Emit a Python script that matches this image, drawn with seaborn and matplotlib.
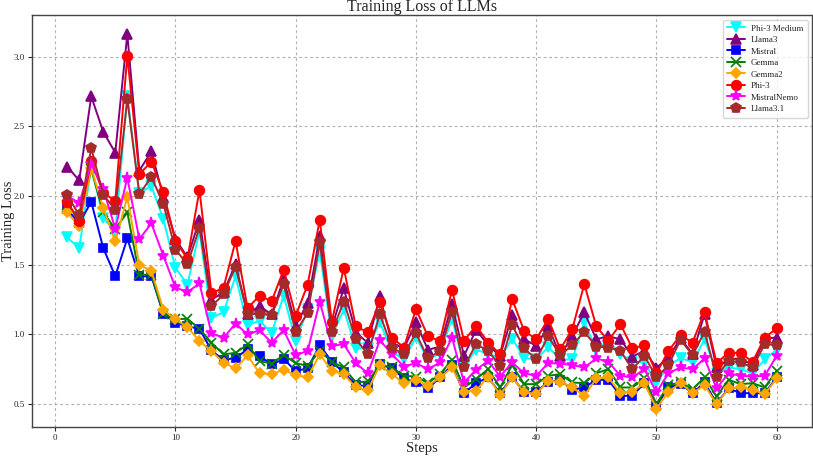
import numpy as np
import pandas as pd
import matplotlib
matplotlib.use('Agg')
import matplotlib.pyplot as plt
import seaborn as sns

steps = list(range(1, 61))

phi3_medium = [1.70, 1.62, 2.21, 1.84, 1.74, 2.72, 2.02, 2.07, 1.83, 1.48,
               1.36, 1.745, 1.12, 1.16, 1.42, 1.065, 1.10, 1.01, 1.28, 0.955,
               1.18, 1.60, 0.99, 1.18, 0.90, 0.90, 1.09, 0.875, 0.82, 0.98,
               0.82, 0.865, 1.115, 0.77, 0.89, 0.86, 0.83, 0.97, 0.83, 0.82,
               0.91, 0.82, 0.82, 1.09, 0.89, 0.95, 0.86, 0.80, 0.80, 0.65,
               0.775, 0.83, 0.80, 0.965, 0.725, 0.76, 0.75, 0.72, 0.82, 0.89]
llama3 = [2.21, 2.11, 2.716, 2.46, 2.31, 3.165, 2.18, 2.32, 1.99, 1.69,
          1.555, 1.826, 1.25, 1.305, 1.505, 1.15, 1.204, 1.144, 1.40, 1.063,
          1.226, 1.707, 1.05, 1.332, 1.014, 0.94, 1.274, 0.942, 0.899, 1.087,
          0.889, 0.913, 1.219, 0.846, 1.034, 0.923, 0.846, 1.139, 0.966, 0.918,
          1.058, 0.846, 0.99, 1.159, 0.966, 0.986, 0.966, 0.841, 0.882, 0.76,
          0.834, 0.971, 0.86, 1.147, 0.762, 0.822, 0.827, 0.779, 0.971, 0.978]
mistral = [1.903, 1.80, 1.956, 1.622, 1.42, 1.692, 1.418, 1.42, 1.146, 1.084,
           1.06, 1.04, 0.885, 0.815, 0.832, 0.892, 0.844, 0.785, 0.822, 0.738,
           0.755, 0.925, 0.803, 0.726, 0.635, 0.628, 0.786, 0.755, 0.683, 0.654,
           0.611, 0.69, 0.779, 0.577, 0.649, 0.69, 0.577, 0.69, 0.587, 0.587,
           0.659, 0.673, 0.601, 0.618, 0.673, 0.673, 0.558, 0.558, 0.649, 0.486,
           0.618, 0.642, 0.577, 0.654, 0.505, 0.611, 0.577, 0.577, 0.577, 0.69]
gemma = [1.93, 1.83, 2.19, 1.88, 1.76, 1.88, 1.43, 1.43, 1.15, 1.11,
         1.113, 1.04, 0.94, 0.856, 0.868, 0.928, 0.808, 0.79, 0.851, 0.793,
         0.774, 0.882, 0.803, 0.762, 0.654, 0.662, 0.779, 0.762, 0.702, 0.697,
         0.649, 0.714, 0.817, 0.618, 0.678, 0.75, 0.618, 0.779, 0.642, 0.642,
         0.702, 0.714, 0.654, 0.649, 0.721, 0.75, 0.618, 0.618, 0.683, 0.50,
         0.635, 0.654, 0.606, 0.69, 0.553, 0.673, 0.642, 0.649, 0.618, 0.738]
gemma2 = [1.88, 1.78, 2.20, 1.91, 1.67, 1.99, 1.50, 1.46, 1.177, 1.11,
          1.053, 0.952, 0.88, 0.796, 0.755, 0.849, 0.719, 0.716, 0.745, 0.707,
          0.69, 0.858, 0.738, 0.714, 0.618, 0.597, 0.779, 0.714, 0.649, 0.673,
          0.63, 0.69, 0.762, 0.588, 0.594, 0.697, 0.563, 0.69, 0.582, 0.57,
          0.666, 0.659, 0.618, 0.558, 0.683, 0.69, 0.577, 0.587, 0.649, 0.466,
          0.587, 0.649, 0.577, 0.635, 0.498, 0.611, 0.618, 0.601, 0.57, 0.683]
phi3 = [1.956, 1.82, 2.25, 2.02, 1.963, 3.009, 2.156, 2.244, 2.024, 1.675,
        1.546, 2.04, 1.296, 1.337, 1.673, 1.19, 1.28, 1.24, 1.466, 1.135,
        1.36, 1.827, 1.091, 1.478, 1.058, 1.016, 1.236, 0.978, 0.906, 1.183,
        0.986, 0.954, 1.322, 0.954, 1.063, 0.942, 0.858, 1.255, 1.026, 0.966,
        1.111, 0.894, 1.038, 1.363, 1.058, 0.954, 1.075, 0.899, 0.923, 0.72,
        0.882, 0.995, 0.942, 1.163, 0.793, 0.87, 0.865, 0.803, 0.978, 1.043]
mistral_nemo = [2.0, 1.947, 2.23, 2.05, 1.76, 2.13, 1.687, 1.80, 1.567, 1.339,
                1.305, 1.368, 1.007, 0.976, 1.079, 1.0, 1.031, 0.94, 1.031, 0.851,
                0.882, 1.236, 0.918, 0.93, 0.793, 0.72, 0.959, 0.858, 0.769, 0.793,
                0.75, 0.798, 0.978, 0.654, 0.745, 0.81, 0.697, 0.798, 0.721, 0.702,
                0.793, 0.79, 0.779, 0.762, 0.827, 0.803, 0.702, 0.69, 0.75, 0.582,
                0.721, 0.762, 0.75, 0.827, 0.611, 0.721, 0.702, 0.697, 0.702, 0.846]
llama31 = [2.004, 1.86, 2.343, 2.007, 1.898, 2.696, 2.01, 2.135, 1.94, 1.612,
           1.506, 1.77, 1.204, 1.288, 1.488, 1.144, 1.151, 1.137, 1.363, 1.019,
           1.154, 1.663, 1.019, 1.236, 0.966, 0.858, 1.147, 0.906, 0.858, 1.01,
           0.827, 0.882, 1.163, 0.766, 0.93, 0.882, 0.774, 1.067, 0.899, 0.822,
           0.986, 0.85, 0.923, 1.019, 0.913, 0.906, 0.882, 0.75, 0.846, 0.69,
           0.779, 0.962, 0.851, 1.019, 0.697, 0.81, 0.798, 0.762, 0.93, 0.923]

model_names = ['Phi-3 Medium', 'Llama3', 'Mistral', 'Gemma', 'Gemma2',
               'Phi-3', 'MistralNemo', 'Llama3.1']
model_values = [phi3_medium, llama3, mistral, gemma, gemma2,
                phi3, mistral_nemo, llama31]
model_colors = ['cyan', 'purple', 'blue', 'green', 'orange',
                'red', 'magenta', 'brown']
model_markers = ['v', '^', 's', 'x', 'D', 'o', '*', 'p']
marker_sizes = [7, 7, 6, 7, 5, 7, 8, 7]

sns.set_style('ticks')
plt.rcParams['font.family'] = ['Liberation Serif', 'DejaVu Serif']

fig = plt.figure(figsize=(8.13, 4.57), dpi=100)
ax = fig.add_axes([0.039, 0.065, 0.96, 0.9015])

for name, vals, col, mk, ms in zip(model_names, model_values, model_colors,
                                   model_markers, marker_sizes):
    df = pd.DataFrame({'Steps': steps, 'Loss': vals})
    sns.lineplot(data=df, x='Steps', y='Loss', ax=ax, color=col, marker=mk,
                 markersize=ms, markeredgecolor=col, markeredgewidth=1.2,
                 linewidth=1.4, label=name)

# default-like margins
ax.set_xlim(-1.95, 62.95)
ax.set_ylim(0.331, 3.30)
ax.set_xticks([0, 10, 20, 30, 40, 50, 60])
ax.set_yticks([0.5, 1.0, 1.5, 2.0, 2.5, 3.0])
ax.tick_params(labelsize=6.5, length=3, pad=2)
ax.grid(True, linestyle=(0, (2.5, 2.5)), color='#b0b0b0', linewidth=0.8)
for sp in ax.spines.values():
    sp.set_color('#444444')
    sp.set_linewidth(1.0)

ax.set_title('Training Loss of LLMs', fontsize=11.5, pad=1.5)
ax.set_xlabel('Steps', fontsize=10.5)
ax.set_ylabel('Training Loss', fontsize=10.5)
ax.xaxis.set_label_coords(0.5, -0.035)
ax.yaxis.set_label_coords(-0.022, 0.5)
ax.legend(loc='upper right', fontsize=6.5, frameon=True, fancybox=True,
          handlelength=2.0, handletextpad=0.6, borderpad=0.5,
          labelspacing=0.35)

fig.savefig('out.png', dpi=100)
